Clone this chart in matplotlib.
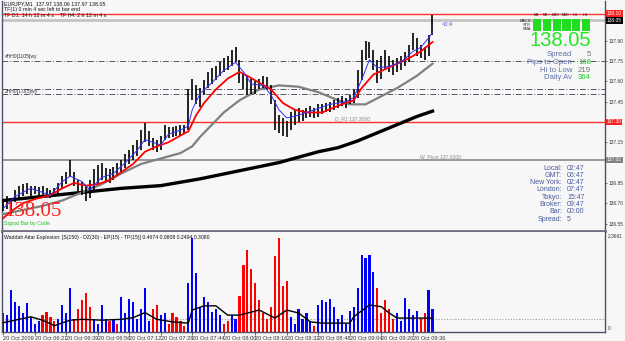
import numpy as np
import matplotlib
matplotlib.use("Agg")
import matplotlib.pyplot as plt
from matplotlib.patches import Rectangle

plt.rcParams['font.family'] = ['Liberation Sans', 'DejaVu Sans']

# EURJPY M1 - one entry per 2-minute step
bar_high = [136.72, 136.75, 136.74, 136.80, 136.83, 136.84, 136.85, 136.83, 136.83, 136.82,
            136.83, 136.81, 136.80, 136.81, 136.85, 136.90, 136.93, 137.02, 136.93, 136.87,
            136.86, 136.83, 136.87, 136.95, 136.98, 137.00, 136.96, 136.95, 136.97, 137.00,
            137.02, 137.06, 137.09, 137.13, 137.17, 137.24, 137.29, 137.23, 137.18, 137.17,
            137.20, 137.28, 137.26, 137.26, 137.27, 137.28, 137.28, 137.54, 137.62, 137.57,
            137.55, 137.61, 137.67, 137.70, 137.71, 137.74, 137.77, 137.79, 137.83, 137.85,
            137.76, 137.66, 137.64, 137.62, 137.61, 137.62, 137.64, 137.63, 137.57, 137.46,
            137.35, 137.33, 137.31, 137.37, 137.39, 137.40, 137.39, 137.40, 137.42, 137.40,
            137.43, 137.43, 137.44, 137.45, 137.46, 137.48, 137.49, 137.48, 137.50, 137.54,
            137.68, 137.83, 137.90, 137.89, 137.83, 137.76, 137.79, 137.83, 137.79, 137.76,
            137.77, 137.79, 137.82, 137.87, 137.96, 137.92, 137.87, 137.85, 137.94, 138.09]
bar_low = [136.64, 136.66, 136.62, 136.71, 136.74, 136.75, 136.77, 136.75, 136.77, 136.75,
           136.76, 136.75, 136.74, 136.75, 136.77, 136.81, 136.84, 136.89, 136.83, 136.78,
           136.76, 136.72, 136.74, 136.80, 136.84, 136.87, 136.86, 136.85, 136.87, 136.90,
           136.92, 136.96, 136.99, 137.02, 137.05, 137.09, 137.15, 137.12, 137.09, 137.08,
           137.09, 137.17, 137.18, 137.19, 137.20, 137.20, 137.21, 137.24, 137.46, 137.43,
           137.41, 137.50, 137.55, 137.58, 137.61, 137.64, 137.67, 137.68, 137.71, 137.74,
           137.59, 137.54, 137.50, 137.51, 137.51, 137.54, 137.55, 137.54, 137.43, 137.24,
           137.22, 137.20, 137.19, 137.24, 137.28, 137.30, 137.31, 137.33, 137.34, 137.33,
           137.34, 137.36, 137.37, 137.37, 137.39, 137.40, 137.42, 137.40, 137.43, 137.44,
           137.48, 137.61, 137.76, 137.77, 137.68, 137.59, 137.62, 137.68, 137.67, 137.65,
           137.67, 137.68, 137.71, 137.74, 137.83, 137.79, 137.77, 137.76, 137.79, 137.94]

# moving averages (bar index, price)
ma_blue_idx = [0, 3, 7, 10, 12, 15, 17, 20, 22, 25, 28, 31, 34, 36, 38, 40, 42, 45, 47, 48, 50, 53,
               56, 59, 61, 63, 66, 68, 70, 72, 75, 79, 83, 87, 89, 91, 93, 95, 98, 101, 104, 106, 108, 109]
ma_blue = [136.66, 136.75, 136.81, 136.78, 136.76, 136.86, 136.90, 136.86, 136.80, 136.89, 136.92,
           137.00, 137.09, 137.17, 137.15, 137.13, 137.21, 137.24, 137.27, 137.39, 137.51, 137.59,
           137.68, 137.74, 137.67, 137.58, 137.57, 137.50, 137.39, 137.33, 137.35, 137.39, 137.43,
           137.45, 137.48, 137.61, 137.76, 137.70, 137.71, 137.74, 137.82, 137.85, 137.92, 137.96]
ma_red_idx = [0, 2, 5, 8, 12, 15, 18, 21, 24, 27, 30, 33, 36, 39, 42, 45, 47, 49, 51, 54, 57, 60,
              62, 65, 68, 71, 74, 77, 81, 85, 89, 91, 94, 97, 100, 103, 106, 109]
ma_red = [136.59, 136.64, 136.70, 136.73, 136.76, 136.81, 136.85, 136.83, 136.84, 136.87, 136.93,
          136.99, 137.08, 137.12, 137.15, 137.20, 137.23, 137.35, 137.44, 137.54, 137.62, 137.67,
          137.64, 137.59, 137.54, 137.44, 137.39, 137.37, 137.37, 137.42, 137.46, 137.55, 137.65,
          137.69, 137.73, 137.77, 137.82, 137.89]
ma_gray_idx = [0, 5, 10, 15, 20, 25, 30, 35, 40, 45, 48, 50, 53, 56, 60, 65, 70, 75, 80, 85, 88,
               92, 96, 100, 105, 109]
ma_gray = [136.62, 136.65, 136.68, 136.72, 136.78, 136.84, 136.92, 136.99, 137.03, 137.07, 137.12,
           137.19, 137.28, 137.37, 137.46, 137.54, 137.57, 137.56, 137.52, 137.46, 137.43, 137.43,
           137.49, 137.55, 137.64, 137.73]
ma_black_idx = [0, 10, 20, 30, 40, 50, 55, 60, 65, 70, 75, 80, 85, 90, 95, 100, 105, 109]
ma_black = [136.72, 136.75, 136.78, 136.81, 136.83, 136.88, 136.91, 136.94, 136.97, 137.00, 137.04,
            137.08, 137.11, 137.16, 137.22, 137.28, 137.34, 137.38]

# Waddah Attar Explosion histogram
hist_val = [0.45, 0.40, 1.00, 0.70, 0.62, 0.45, 0.68, 0.35, 0.20, 0.25,
            0.40, 0.47, 0.35, 0.25, 0.30, 0.64, 0.45, 1.04, 0.30, 0.55,
            0.75, 0.92, 0.60, 0.30, 0.20, 0.64, 0.30, 0.25, 0.30, 0.20,
            0.83, 0.45, 0.78, 0.70, 0.30, 0.55, 1.04, 0.25, 0.55, 0.64,
            0.40, 0.45, 0.20, 0.45, 0.35, 0.25, 0.15, 1.16, 2.23, 1.40,
            0.60, 0.83, 0.70, 0.47, 0.55, 0.40, 0.20, 0.25, 0.40, 0.30,
            0.85, 1.59, 1.94, 1.50, 1.15, 0.75, 0.45, 0.30, 0.60, 1.80,
            2.23, 1.10, 1.20, 0.35, 0.20, 0.55, 0.30, 0.45, 0.25, 0.15,
            0.65, 0.75, 0.70, 0.78, 0.60, 0.30, 0.40, 0.20, 0.50, 0.60,
            1.05, 1.82, 1.75, 1.82, 1.42, 1.04, 0.45, 0.75, 0.55, 0.30,
            0.45, 0.25, 0.80, 0.55, 0.40, 0.50, 0.30, 0.45, 1.00, 0.55]
hist_dir = ("BBBBBBBBBB" "RRRR" "BBBB" "RRRRR" "BBBB" "R" "B" "R" "BBBBBBBB" "RR" "BB" "RRRRR"
            "BBBBBBBBB" "RR" "BB" "RRRRRRRRRRRRR" "BBBBBB" "R" "BBBBBBBBBBBBBBB" "RRRRR" "BBBBBB"
            "RR" "BB")
expl_idx = [0, 4, 7, 10, 13, 17, 20, 25, 30, 33, 36, 39, 43, 47, 48, 51, 54, 57, 60, 65, 69, 72,
            75, 78, 81, 88, 89, 93, 96, 98, 100, 104, 109]
expl_val = [0.22, 0.30, 0.36, 0.28, 0.15, 0.28, 0.30, 0.28, 0.30, 0.34, 0.46, 0.30, 0.24, 0.21,
            0.52, 0.62, 0.62, 0.40, 0.40, 0.52, 0.33, 0.52, 0.45, 0.24, 0.21, 0.21, 0.36, 0.64,
            0.60, 0.45, 0.33, 0.33, 0.33]
dead_zone = 0.30
hist_max = 2.3691

time_labels = ["20 Oct 2009", "20 Oct 06:21", "20 Oct 06:39", "20 Oct 06:56", "20 Oct 07:12",
               "20 Oct 07:28", "20 Oct 07:44", "20 Oct 08:00", "20 Oct 08:16", "20 Oct 08:32",
               "20 Oct 08:48", "20 Oct 09:04", "20 Oct 09:20", "20 Oct 09:36"]
price_ticks = [136.55, 136.70, 136.85, 137.15, 137.45, 137.60, 137.75, 137.90]

bid = 138.05
day_high_line = 138.10
d_r1 = 137.30
w_pivot = 137.02
hh_lines = [137.75, 137.54, 137.51]

timeframes = ["M1", "M5", "M15", "M30", "H1", "H4"]
signals = ["MACD", "STR", "EMA"]
stats = [("Spread", "5", "#707070"), ("Pips to Open", "168", "#22cc22"),
         ("Hi to Low", "219", "#707070"), ("Daily Av", "364", "#22cc22")]
clock = [("Local:", "02:47"), ("GMT:", "06:47"), ("New York:", "02:47"), ("London:", "07:47"),
         ("Tokyo:", "15:47"), ("Broker:", "09:47"), ("Bar:", "00:00"), ("Spread:", "5")]

W, H = 625, 341
bg = "#f7f7f7"
fig = plt.figure(figsize=(W / 100, H / 100), dpi=100, facecolor=bg)


def fx(px):
    return px / W


def fy(py):
    return 1 - py / H


ax = fig.add_axes([fx(2), fy(231), fx(603), 230 / H], facecolor=bg)
ax2 = fig.add_axes([fx(2), fy(332), fx(603), 100 / H], facecolor=bg, sharex=ax)

x = np.arange(len(bar_high))

# ---- price panel ----
ax.axhline(day_high_line, color="#ff3030", lw=1.0, zorder=1)
ax.axhline(bid, color="#c4c4c4", lw=2.0, zorder=1)
ax.axhline(d_r1, color="#ff3030", lw=1.0, zorder=1)
ax.axhline(w_pivot, color="#8c8c8c", lw=1.2, zorder=1)
for lv in hh_lines:
    ax.axhline(lv, color="#555566", lw=0.7, ls=(0, (6, 2, 1, 2)), zorder=1)

ax.plot(ma_black_idx, ma_black, color="black", lw=2.4, zorder=3)
ax.plot(ma_gray_idx, ma_gray, color="#808080", lw=1.6, zorder=3)
ax.vlines(x, bar_low, bar_high, color="black", lw=1.2, zorder=4)
ax.plot(ma_red_idx, ma_red, color="#ff0000", lw=1.3, zorder=5)
ax.plot(ma_blue_idx, ma_blue, color="#3030ff", lw=0.7, zorder=5)

ax.set_xlim(-0.3, 152.8)
ax.set_ylim(136.495, 138.193)
ax.yaxis.tick_right()
ax.set_yticks(price_ticks)
ax.set_yticklabels([f"{p:.2f}" for p in price_ticks])
ax.tick_params(axis="y", labelsize=3.5, colors="#333333", length=1.5, width=0.5, pad=0.8)
ax.tick_params(axis="x", bottom=False, labelbottom=False)
for s in ["left", "right"]:
    ax.spines[s].set_color("#505068")
    ax.spines[s].set_linewidth(1.0)
ax.spines["top"].set_visible(False)
ax.spines["bottom"].set_color("#707080")
ax.spines["bottom"].set_linewidth(2.0)

# boxed price labels on the right scale
tr = ax.get_yaxis_transform()
for val, fc, tc in [(day_high_line, "#ff2020", "white"), (bid, "black", "white"),
                    (d_r1, "#ff2020", "white"), (w_pivot, "#808080", "white")]:
    ax.text(1.003, val, f"{val:.2f}", transform=tr, fontsize=3.5, color=tc, va="center",
            ha="left", zorder=20, clip_on=False,
            bbox=dict(boxstyle="square,pad=0.15", fc=fc, ec="none"))

# line captions
ax.text(3 / 603, hh_lines[0] + 0.02, "#HH0[1105]wy", transform=tr, fontsize=3.6,
        color="#333344")
ax.text(3 / 603, (hh_lines[1] + hh_lines[2]) / 2 - 0.012, "2HH0[1.0(5]wy", transform=tr,
        fontsize=3.6, color="#333344")
ax.text(333 / 603, d_r1 + 0.015, "D_R1 137.3000", transform=tr, fontsize=3.6, color="#8a8a8a")
ax.text(418 / 603, w_pivot + 0.015, "W_Pivot 137.0200", transform=tr, fontsize=3.6,
        color="#8a8a8a")

# ---- indicator panel ----
cols = ["#0000ff" if d == "B" else "#ff0000" for d in hist_dir]
ax2.bar(x, hist_val, width=0.55, color=cols, zorder=2)
ax2.axhline(dead_zone, color="#9a9aa0", lw=0.8, ls=(0, (1, 1.5)), zorder=1)
ax2.plot(expl_idx, expl_val, color="black", lw=1.0, zorder=3)
ax2.set_ylim(0, hist_max)
ax2.yaxis.tick_right()
ax2.set_yticks([])
ax2.text(1.004, 0.955, "2.3691", transform=ax2.transAxes, fontsize=3.5, color="#333333",
         va="center", clip_on=False)
ax2.text(1.004, 0.03, "0", transform=ax2.transAxes, fontsize=3.5, color="#333333",
         va="center", clip_on=False)
ax2.set_xticks(np.arange(len(time_labels)) * 8)
ax2.set_xticklabels(time_labels, ha="left")
ax2.tick_params(axis="x", labelsize=4.1, colors="#333333", length=2, width=0.5, pad=1)
for s in ["left", "right", "bottom"]:
    ax2.spines[s].set_color("#505068")
    ax2.spines[s].set_linewidth(1.0)
ax2.spines["top"].set_visible(False)
ax2.text(0.003, 0.94, "Waddah Attar Explosion: [S(150) - DZ(30) - EP(15) - TP(15)] "
         "0.4674 0.0808 0.2494 0.3080", transform=ax2.transAxes, fontsize=3.7, color="#111111",
         va="center")

# ---- header text ----
fig.text(fx(4), fy(4), "EURJPY,M1  137.97 138.06 137.97 138.05", fontsize=3.8, color="#111111",
         va="center")
fig.text(fx(4), fy(10), "TF(1) 0 min 4 sec left to bar end", fontsize=3.8, color="#111111",
         va="center")
fig.text(fx(4), fy(15.5), "TF D1: 14 h 12 m 4 s    TF H4: 2 h 12 m 4 s", fontsize=3.8,
         color="#111111", va="center")
fig.text(fx(442), fy(24), "<0:4", fontsize=4.0, color="#4050d0", va="center")

# signal grid
for j, tf in enumerate(timeframes):
    fig.text(fx(536 + j * 9.8), fy(15), tf, fontsize=2.8, color="#222222", ha="center",
             va="center")
    for k in range(len(signals)):
        fig.patches.append(Rectangle((fx(533 + j * 9.8), fy(22.5 + k * 4)), fx(8.2), 3.2 / H,
                                     transform=fig.transFigure, fc="#22dd22", ec="none"))
for k, sg in enumerate(signals):
    fig.text(fx(531), fy(21 + k * 4), sg, fontsize=2.8, color="#222222", ha="right", va="center")

fig.text(fx(591), fy(41), f"{bid:.2f}", fontsize=14.5, color="#22e822", ha="right", va="center")
for k, (lab, val, vc) in enumerate(stats):
    yy = fy(55 + k * 7.6)
    fig.text(fx(572), yy, lab, fontsize=5.6, color="#6070a8", ha="right", va="center")
    fig.text(fx(591), yy, val, fontsize=5.6, color=vc, ha="right", va="center")

for k, (lab, val) in enumerate(clock):
    yy = fy(168 + k * 7.3)
    fig.text(fx(562), yy, lab, fontsize=5.0, color="#4a5a9c", ha="right", va="center")
    fig.text(fx(567), yy, val, fontsize=5.0, color="#4a5a9c", ha="left", va="center")

fig.text(fx(4), fy(212), f"{bid:.2f}", fontsize=15, color="#ff2020", va="center",
         family=["Liberation Serif", "DejaVu Serif"])
fig.text(fx(4), fy(224), "Signal Bar by Code", fontsize=3.8, color="#22bb22", va="center")

fig.savefig("out.png", dpi=100, facecolor=bg)
